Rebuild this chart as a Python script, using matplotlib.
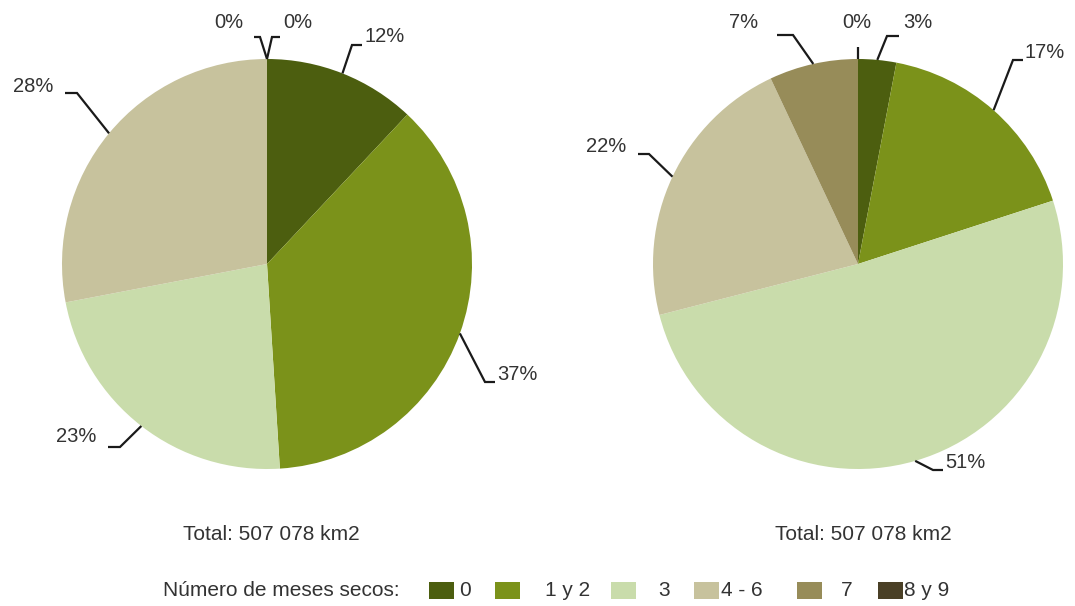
import matplotlib
matplotlib.use("Agg")
import matplotlib.pyplot as plt
from matplotlib.patches import Rectangle
import numpy as np

plt.rcParams['font.family'] = ['Liberation Sans', 'DejaVu Sans']

# Data
categories = ["0", "1 y 2", "3", "4 - 6", "7", "8 y 9"]
left_values = [12, 37, 23, 28, 0, 0]
right_values = [3, 17, 51, 22, 7, 0]
total_label = "Total: 507 078 km2"
legend_title = "Número de meses secos:"

# Style
colors = ["#4c5e0f", "#7b921a", "#c9dcab", "#c7c29d", "#978c59", "#4a4026"]
text_color = "#333333"
line_color = "#1a1a1a"

W, H = 1075, 606
fig = plt.figure(figsize=(W / 100, H / 100), dpi=100)
ax = fig.add_axes([0, 0, 1, 1])

R = 205
centers = [(267, 264), (858, 264)]

# Label callouts per pie, in slice order: (elbow, end of horizontal, text pos, ha)
callouts = [
    [((352, 45), (362, 45), (365, 37), "left"),
     ((485, 382), (495, 382), (497, 375), "left"),
     ((120, 447), (108, 447), (96, 436), "right"),
     ((77, 93), (65, 93), (53, 87), "right"),
     ((260, 37), (254, 37), (243, 22), "right"),
     ((272, 37), (280, 37), (283, 22), "left")],
    [((887, 36), (899, 36), (903, 22), "left"),
     ((1013, 60), (1023, 60), (1025, 52), "left"),
     ((933, 470), (943, 470), (945, 463), "left"),
     ((649, 154), (638, 154), (626, 147), "right"),
     ((793, 35), (777, 35), (758, 22), "right"),
     ((858, 47), (858, 47), (857, 22), "center")],
]
total_pos = [(271, 535), (863, 535)]

for values, (cx, cy), calls, tpos in zip([left_values, right_values], centers,
                                          callouts, total_pos):
    wedges, _ = ax.pie(values, colors=colors, startangle=270, counterclock=True,
                       radius=R, center=(cx, cy),
                       wedgeprops=dict(linewidth=0, antialiased=True))
    for w, v, (elbow, hend, txy, ha) in zip(wedges, values, calls):
        mid = np.deg2rad((w.theta1 + w.theta2) / 2)
        sx, sy = cx + R * np.cos(mid), cy + R * np.sin(mid)
        ax.plot([sx, elbow[0], hend[0]], [sy, elbow[1], hend[1]],
                color=line_color, lw=1.6, solid_joinstyle="miter",
                solid_capstyle="butt", zorder=3)
        ax.text(txy[0], txy[1], f"{v}%", ha=ha, va="center",
                fontsize=14.5, color=text_color)
    ax.text(tpos[0], tpos[1], total_label, ha="center", va="center",
            fontsize=15, color=text_color)

# Legend
ax.text(163, 591, legend_title, ha="left", va="center", fontsize=15,
        color=text_color)
swatch_x = [429, 495, 611, 694, 797, 878]
label_x = [459, 545, 658, 721, 841, 904]
for c, name, sx, lx in zip(colors, categories, swatch_x, label_x):
    ax.add_patch(Rectangle((sx, 582), 25, 17, facecolor=c, edgecolor="none"))
    ax.text(lx, 591, name, ha="left", va="center", fontsize=15,
            color=text_color)

ax.set_xlim(0, W)
ax.set_ylim(H, 0)
ax.set_aspect("auto")
ax.axis("off")

fig.savefig("out.png", dpi=100, facecolor="white")
